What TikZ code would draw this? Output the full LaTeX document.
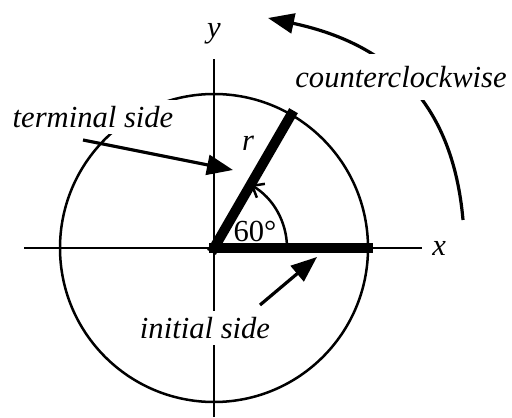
\documentclass[tikz,border=0pt]{standalone}
\usepackage{fontspec}
\setmainfont{Liberation Serif}
\usetikzlibrary{arrows.meta, positioning}

\begin{document}
\begin{tikzpicture}[
    x=0.5pt, y=0.5pt,
    thin line/.style={line width=1.25pt},
    side/.style={line width=5pt, line cap=rect},
    pointer/.style={line width=1.6pt, -{Triangle[length=13pt, width=10pt]}},
    txt/.style={font=\fontsize{15.3}{18}\selectfont, inner sep=3pt},
    lbl/.style={txt, font=\fontsize{15.3}{18}\selectfont\itshape, fill=white},
  ]
    \useasboundingbox (0,0) rectangle (512,417);
    \coordinate (O) at (214,169);
    \coordinate (T) at (291,302);
    \coordinate (I) at (368,169);
    \coordinate (xl) at (24,169);
    \coordinate (xr) at (422,169);
    \coordinate (yb) at (214,0);
    \coordinate (yt) at (214,358);

    % axes and circle
    \draw[thin line] (xl) -- (xr);
    \draw[thin line] (yb) -- (yt);
    \draw[thin line] (O) circle[radius=154];
    \node[txt, font=\fontsize{15.3}{18}\selectfont\itshape, right=2pt of xr] (xlab) {x};
    \node[txt, font=\fontsize{15.3}{18}\selectfont\itshape, above=4pt of yt] (ylab) {y};

    % the two sides and the angle
    \draw[side] (O) -- (T);
    \draw[side] (O) -- (I);
    \draw[thin line, -{Straight Barb[length=5pt, width=8pt]}]
      ([shift={(0:73)}]O) arc[start angle=0, end angle=60, radius=73];
    \node[txt] (ang) at (255,186) {60°};
    \node[txt, font=\fontsize{15.3}{18}\selectfont\itshape] (rlab) at (248,274) {r};

    % labels with pointers
    \node[lbl] (term) at (93,300) {terminal side};
    \coordinate (termtail) at (83,277);
    \coordinate (termhead) at (233,247);
    \draw[pointer] (termtail) -- (termhead);

    \node[lbl] (init) at (205,89) {initial side};
    \coordinate (inittail) at (260,112);
    \coordinate (inithead) at (317,160);
    \draw[pointer] (inittail) -- (inithead);

    \coordinate (ccwstart) at (463,197);
    \coordinate (ccwend) at (268,399);
    \draw[pointer] (ccwstart) to[out=95, in=-12, looseness=1.1] (ccwend);
    \node[lbl, inner sep=6pt] (ccw) at (401,340) {counterclockwise};
\end{tikzpicture}
\end{document}
